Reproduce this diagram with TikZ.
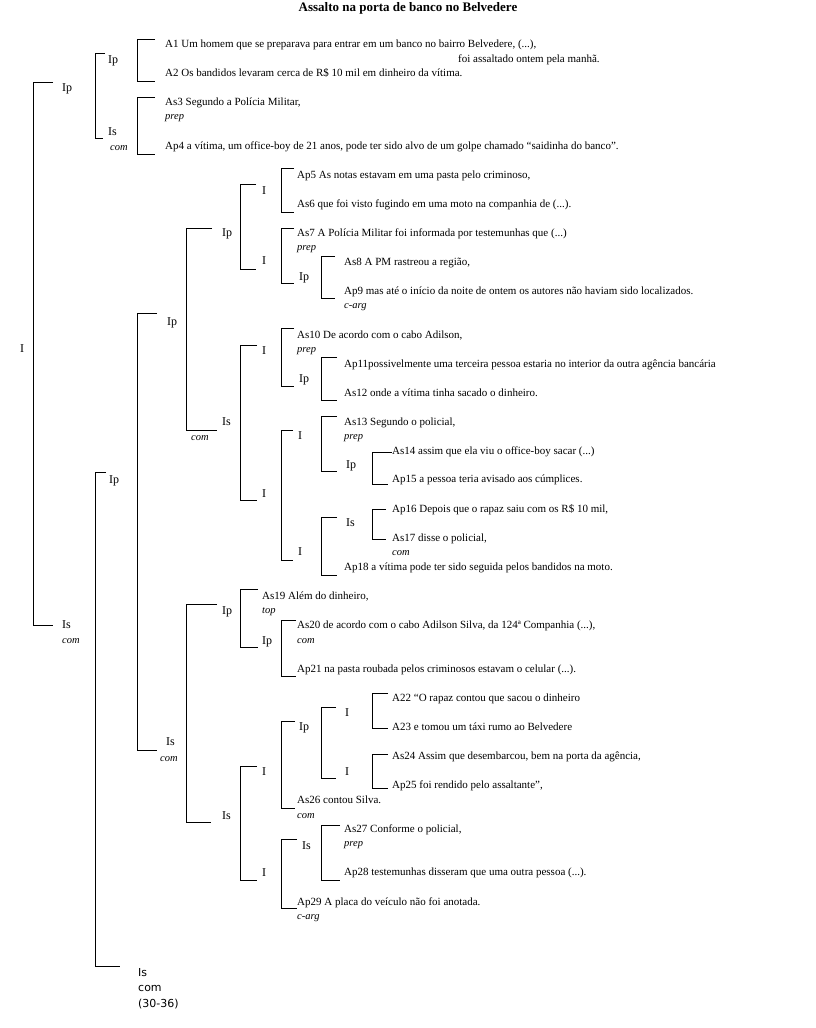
\documentclass[tikz,border=0pt]{standalone}
\usepackage{fontspec}
\setmainfont{Liberation Serif}
\newfontfamily\dejafont{DejaVu Sans}
\usetikzlibrary{positioning}

\tikzset{
  txt/.style={anchor=west, inner sep=0pt, text height=7.5pt, text depth=2.5pt, font=\fontsize{11}{13}\selectfont},
  lbl/.style={anchor=west, inner sep=0pt, text height=8pt, text depth=2.5pt, font=\fontsize{12}{14}\selectfont},
  sub/.style={anchor=west, inner sep=0pt, font=\fontsize{10.5}{12}\selectfont\itshape},
  sanslbl/.style={anchor=west, inner sep=0pt, font=\dejafont\fontsize{11}{13}\selectfont},
  brkline/.style={draw=black, line width=0.8pt},
  ttl/.style={inner sep=0pt, font=\fontsize{13}{15}\selectfont\bfseries}
}

% bracket: bar x, top tick length, bottom tick length, top child, its dy, bottom child, its dy
\newcommand{\brk}[7]{%
  \coordinate (bar) at (#1,0);
  \coordinate (tipa) at ({#1+#2},0);
  \coordinate (tipb) at ({#1+#3},0);
  \path ([yshift=#5pt]#4.west) coordinate (ta) ([yshift=#7pt]#6.west) coordinate (tb);
  \draw[brkline] (ta -| tipa) -- (ta -| bar) -- (tb -| bar) -- (tb -| tipb);
}

\begin{document}
\begin{tikzpicture}[x=1pt, y=-1pt]
\useasboundingbox[fill=white] (0,0) rectangle (816,1028);

\node[ttl] (title) at (408,8) {Assalto na porta de banco no Belvedere};

% labels of the tree
\node[lbl] (r) at (20,350) {I};
\node[lbl] (r1) at (62,89) {Ip};
\node[lbl] (r2) at (62,626) {Is};
\node[sub] (r2c) at (62,641) {com};
\node[lbl] (r11) at (108,61) {Ip};
\node[lbl] (r12) at (108,133) {Is};
\node[sub] (r12c) at (110,148) {com};
\node[lbl] (r21) at (109,481) {Ip};
\node[sanslbl] (r22) at (138,973) {Is};
\node[sanslbl] (r22c) at (138,988) {com};
\node[sanslbl] (r22n) at (138,1004) {(30-36)};
\node[lbl] (r211) at (167,323) {Ip};
\node[lbl] (r212) at (166,743) {Is};
\node[sub] (r212c) at (160,759) {com};
\node[lbl] (r2111) at (222,234) {Ip};
\node[lbl] (r2112) at (222,423) {Is};
\node[sub] (r2112c) at (191,438) {com};
\node[lbl] (r21111) at (262,192) {I};
\node[lbl] (r21112) at (262,262) {I};
\node[lbl] (r211122) at (299,278) {Ip};
\node[lbl] (r21121) at (262,352) {I};
\node[lbl] (r21122) at (262,495) {I};
\node[lbl] (r211212) at (299,380) {Ip};
\node[lbl] (r211221) at (298,437) {I};
\node[lbl] (r211222) at (298,553) {I};
\node[lbl] (r2112212) at (346,466) {Ip};
\node[lbl] (r2112221) at (346,524) {Is};
\node[lbl] (r2121) at (222,612) {Ip};
\node[lbl] (r2122) at (222,817) {Is};
\node[lbl] (r21212) at (262,642) {Ip};
\node[lbl] (r21221) at (262,773) {I};
\node[lbl] (r21222) at (262,874) {I};
\node[lbl] (r212211) at (299,728) {Ip};
\node[lbl] (r2122111) at (345,714) {I};
\node[lbl] (r2122112) at (345,773) {I};
\node[lbl] (r212221) at (302,847) {Is};

% the text units
\node[txt] (a1) at (165,45) {A1 Um homem que se preparava para entrar em um banco no bairro Belvedere, (...),};
\node[txt] (a1b) at (458,60) {foi assaltado ontem pela manhã.};
\node[txt] (a2) at (165,74) {A2 Os bandidos levaram cerca de R\$ 10 mil em dinheiro da vítima.};
\node[txt] (as3) at (165,103) {As3 Segundo a Polícia Militar,};
\node[sub] (as3p) at (165,118) {prep};
\node[txt] (ap4) at (165,147) {Ap4 a vítima, um office-boy de 21 anos, pode ter sido alvo de um golpe chamado “saidinha do banco”.};
\node[txt] (ap5) at (297,176) {Ap5 As notas estavam em uma pasta pelo criminoso,};
\node[txt] (as6) at (297,205) {As6 que foi visto fugindo em uma moto na companhia de (...).};
\node[txt] (as7) at (297,234) {As7 A Polícia Militar foi informada por testemunhas que (...)};
\node[sub] (as7p) at (297,249) {prep};
\node[txt] (as8) at (344,263) {As8 A PM rastreou a região,};
\node[txt] (ap9) at (344,292) {Ap9 mas até o início da noite de ontem os autores não haviam sido localizados.};
\node[sub] (ap9c) at (344,307) {c-arg};
\node[txt] (as10) at (297,336) {As10 De acordo com o cabo Adilson,};
\node[sub] (as10p) at (297,351) {prep};
\node[txt] (ap11) at (344,365) {Ap11possivelmente uma terceira pessoa estaria no interior da outra agência bancária};
\node[txt] (as12) at (344,394) {As12 onde a vítima tinha sacado o dinheiro.};
\node[txt] (as13) at (344,423) {As13 Segundo o policial,};
\node[sub] (as13p) at (344,438) {prep};
\node[txt] (as14) at (392,452) {As14 assim que ela viu o office-boy sacar (...)};
\node[txt] (ap15) at (392,480) {Ap15 a pessoa teria avisado aos cúmplices.};
\node[txt] (ap16) at (392,510) {Ap16 Depois que o rapaz saiu com os R\$ 10 mil,};
\node[txt] (as17) at (392,539) {As17 disse o policial,};
\node[sub] (as17c) at (392,553) {com};
\node[txt] (ap18) at (344,568) {Ap18 a vítima pode ter sido seguida pelos bandidos na moto.};
\node[txt] (as19) at (262,597) {As19 Além do dinheiro,};
\node[sub] (as19t) at (262,612) {top};
\node[txt] (as20) at (297,626) {As20 de acordo com o cabo Adilson Silva, da 124ª Companhia (...),};
\node[sub] (as20c) at (297,641) {com};
\node[txt] (ap21) at (297,670) {Ap21 na pasta roubada pelos criminosos estavam o celular (...).};
\node[txt] (a22) at (392,699) {A22 “O rapaz contou que sacou o dinheiro};
\node[txt] (a23) at (392,728) {A23 e tomou um táxi rumo ao Belvedere};
\node[txt] (as24) at (392,757) {As24 Assim que desembarcou, bem na porta da agência,};
\node[txt] (ap25) at (392,786) {Ap25 foi rendido pelo assaltante”,};
\node[txt] (as26) at (297,801) {As26 contou Silva.};
\node[sub] (as26c) at (297,816) {com};
\node[txt] (as27) at (344,830) {As27 Conforme o policial,};
\node[sub] (as27p) at (344,845) {prep};
\node[txt] (ap28) at (344,873) {Ap28 testemunhas disseram que uma outra pessoa (...).};
\node[txt] (ap29) at (297,903) {Ap29 A placa do veículo não foi anotada.};
\node[sub] (ap29c) at (297,918) {c-arg};

% brackets
\brk{33}{20}{20}{r1}{7}{r2}{1}
\brk{95}{10}{8}{r11}{8}{r12}{-5}
\brk{137}{18}{18}{a1}{6}{a2}{-7}
\brk{137}{18}{18}{as3}{6}{ap4}{-7}
\brk{95}{11}{25}{r21}{9}{r22}{7}
\brk{137}{20}{20}{r211}{10}{r212}{-7}
\brk{186}{26}{31}{r2111}{6}{r2112}{-7}
\brk{240}{16}{16}{r21111}{8}{r21112}{-7}
\brk{281}{13}{13}{ap5}{8}{as6}{-7}
\brk{281}{13}{13}{as7}{6}{r211122}{-5}
\brk{321}{14}{14}{as8}{7}{ap9}{-6}
\brk{240}{17}{17}{r21121}{7}{r21122}{-5}
\brk{281}{13}{13}{as10}{8}{r211212}{-6}
\brk{321}{16}{16}{ap11}{8}{as12}{-6}
\brk{281}{12}{12}{r211221}{7}{r211222}{-7}
\brk{321}{16}{16}{as13}{7}{r2112212}{-5}
\brk{372}{20}{16}{as14}{0}{ap15}{-4}
\brk{321}{16}{16}{r2112221}{7}{ap18}{-7}
\brk{372}{14}{14}{ap16}{1}{as17}{0}
\brk{186}{31}{25}{r2121}{8}{r2122}{-5}
\brk{240}{18}{18}{as19}{8}{r21212}{-5}
\brk{281}{15}{15}{as20}{6}{ap21}{-6}
\brk{240}{17}{17}{r21221}{7}{r21222}{-6}
\brk{281}{14}{14}{r212211}{7}{as26}{-7}
\brk{321}{15}{15}{r2122111}{7}{r2122112}{-5}
\brk{372}{16}{16}{a22}{6}{a23}{0}
\brk{372}{16}{16}{as24}{3}{ap25}{-2}
\brk{281}{16}{16}{r212221}{8}{ap29}{-5}
\brk{321}{19}{19}{as27}{5}{ap28}{-7}
\end{tikzpicture}
\end{document}
